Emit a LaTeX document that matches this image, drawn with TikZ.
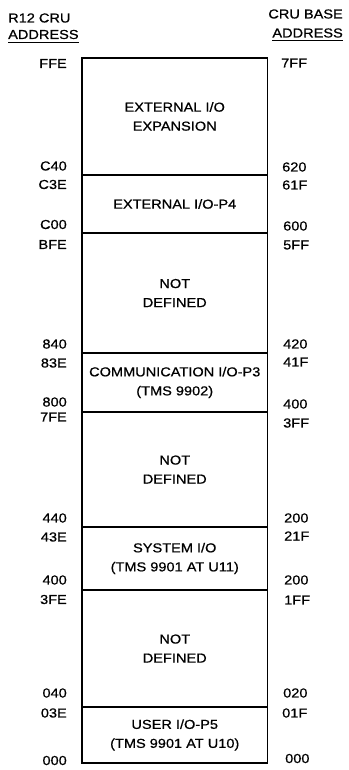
\documentclass[tikz,border=0pt]{standalone}
\usepackage{fontspec}
\setmainfont[FakeStretch=1.12,FakeBold=0.7]{Liberation Sans}
\begin{document}
\begin{tikzpicture}[x=1pt,y=-1pt,
  txt/.style={font=\fontsize{13}{19}\selectfont, inner sep=0pt},
  lab/.style={txt, anchor=east},
  rab/.style={txt, anchor=west},
  region/.style={draw, line width=1.5pt, txt, align=center,
    minimum width=185.5pt, inner sep=0pt},
  uline/.style={line width=1.2pt}]
\useasboundingbox (0,0) rectangle (348,770);
% headers
\node[txt, anchor=west] (h1) at (8,18) {R12 CRU};
\node[txt, anchor=west] (h2) at (8,34.5) {ADDRESS};
\node[txt, anchor=east] (h3) at (343,14) {CRU BASE};
\node[txt, anchor=east] (h4) at (343,33) {ADDRESS};
\draw[uline] ([yshift=-3pt]h2.south west) -- ([yshift=-3pt]h2.south east);
\draw[uline] ([yshift=-3pt]h4.south west) -- ([yshift=-3pt]h4.south east);
% regions
\node[region, minimum height=117pt] (r1) at (174.75,116.5) {EXTERNAL I/O\\EXPANSION};
\node[region, minimum height=58pt] (r2) at (174.75,204) {EXTERNAL I/O-P4};
\node[region, minimum height=120pt] (r3) at (174.75,293) {NOT\\DEFINED};
\node[region, minimum height=59pt] (r4) at (174.75,382.5) {COMMUNICATION I/O-P3\\(TMS 9902)};
\node[region, minimum height=115pt] (r5) at (174.75,469.5) {NOT\\DEFINED};
\node[region, minimum height=63pt] (r6) at (174.75,558.5) {SYSTEM I/O\\(TMS 9901 AT U11)};
\node[region, minimum height=117pt] (r7) at (174.75,648.5) {NOT\\DEFINED};
\node[region, minimum height=56pt] (r8) at (174.75,735) {USER I/O-P5\\(TMS 9901 AT U10)};
% left addresses
\node[lab] (l1) at (67,63.5) {FFE};
\node[lab] (l2) at (67,166) {C40};
\node[lab] (l3) at (67,184.5) {C3E};
\node[lab] (l4) at (67,224.5) {C00};
\node[lab] (l5) at (67,244.5) {BFE};
\node[lab] (l6) at (67,344) {840};
\node[lab] (l7) at (67,363) {83E};
\node[lab] (l8) at (67,402) {800};
\node[lab] (l9) at (67,417) {7FE};
\node[lab] (l10) at (67,518) {440};
\node[lab] (l11) at (67,537) {43E};
\node[lab] (l12) at (67,580) {400};
\node[lab] (l13) at (67,599.5) {3FE};
\node[lab] (l14) at (67,693) {040};
\node[lab] (l15) at (67,713) {03E};
\node[lab] (l16) at (67,760.5) {000};
% right addresses
\node[rab] (q1) at (281,63) {7FF};
\node[rab] (q2) at (282,167) {620};
\node[rab] (q3) at (282,185) {61F};
\node[rab] (q4) at (283,226) {600};
\node[rab] (q5) at (283,245) {5FF};
\node[rab] (q6) at (283,344) {420};
\node[rab] (q7) at (283,362) {41F};
\node[rab] (q8) at (283,404) {400};
\node[rab] (q9) at (283,423) {3FF};
\node[rab] (q10) at (284,518) {200};
\node[rab] (q11) at (284,536) {21F};
\node[rab] (q12) at (284,580) {200};
\node[rab] (q13) at (284,600) {1FF};
\node[rab] (q14) at (283,693) {020};
\node[rab] (q15) at (282,713) {01F};
\node[rab] (q16) at (285,758.5) {000};
\end{tikzpicture}
\end{document}
